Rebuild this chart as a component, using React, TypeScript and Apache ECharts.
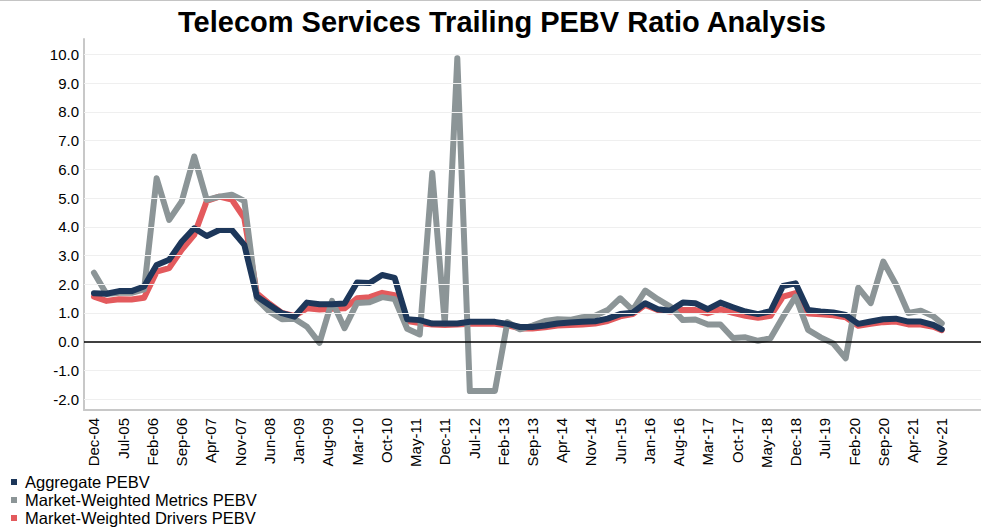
import React, { useEffect, useRef } from "react";
import * as echarts from "echarts";

const dates = [
  "Dec-04",
  "Mar-05", "Jun-05", "Sep-05", "Dec-05",
  "Mar-06", "Jun-06", "Sep-06", "Dec-06",
  "Mar-07", "Jun-07", "Sep-07", "Dec-07",
  "Mar-08", "Jun-08", "Sep-08", "Dec-08",
  "Mar-09", "Jun-09", "Sep-09", "Dec-09",
  "Mar-10", "Jun-10", "Sep-10", "Dec-10",
  "Mar-11", "Jun-11", "Sep-11", "Dec-11",
  "Mar-12", "Jun-12", "Sep-12", "Dec-12",
  "Mar-13", "Jun-13", "Sep-13", "Dec-13",
  "Mar-14", "Jun-14", "Sep-14", "Dec-14",
  "Mar-15", "Jun-15", "Sep-15", "Dec-15",
  "Mar-16", "Jun-16", "Sep-16", "Dec-16",
  "Mar-17", "Jun-17", "Sep-17", "Dec-17",
  "Mar-18", "Jun-18", "Sep-18", "Dec-18",
  "Mar-19", "Jun-19", "Sep-19", "Dec-19",
  "Mar-20", "Jun-20", "Sep-20", "Dec-20",
  "Mar-21", "Jun-21", "Sep-21", "Nov-21",
];

const aggregatePEBV = [
  1.69,
  1.67, 1.76, 1.76, 1.92,
  2.67, 2.85, 3.48, 3.95,
  3.68, 3.89, 3.89, 3.37,
  1.57, 1.28, 0.99, 0.87,
  1.36, 1.30, 1.30, 1.33,
  2.06, 2.04, 2.32, 2.22,
  0.78, 0.75, 0.63, 0.63,
  0.63, 0.69, 0.69, 0.69,
  0.62, 0.51, 0.51, 0.56,
  0.63, 0.67, 0.69, 0.71,
  0.80, 0.96, 1.01, 1.34,
  1.13, 1.08, 1.36, 1.34,
  1.13, 1.36, 1.20, 1.05,
  0.96, 1.06, 1.94, 2.03,
  1.10, 1.05, 1.02, 0.93,
  0.62, 0.70, 0.78, 0.80,
  0.70, 0.70, 0.58, 0.43,
];

const metricsPEBV = [
  2.40,
  1.66, 1.70, 1.70, 1.82,
  5.69, 4.24, 4.88, 6.45,
  4.94, 5.05, 5.12, 4.90,
  1.48, 1.05, 0.78, 0.80,
  0.52, -0.04, 1.42, 0.47,
  1.35, 1.37, 1.55, 1.48,
  0.45, 0.25, 5.87, 0.62,
  9.87, -1.72, -1.72, -1.72,
  0.68, 0.43, 0.56, 0.72,
  0.78, 0.76, 0.85, 0.90,
  1.10, 1.51, 1.10, 1.78,
  1.48, 1.22, 0.75, 0.77,
  0.60, 0.60, 0.13, 0.15,
  0.03, 0.12, 0.87, 1.57,
  0.41, 0.15, -0.06, -0.58,
  1.88, 1.34, 2.79, 2.00,
  1.00, 1.08, 0.88, 0.64,
];

const driversPEBV = [
  1.57,
  1.42, 1.48, 1.47, 1.53,
  2.44, 2.56, 3.20, 3.72,
  4.90, 5.05, 4.95, 4.30,
  1.68, 1.32, 1.00, 0.90,
  1.16, 1.12, 1.15, 1.16,
  1.51, 1.55, 1.70, 1.62,
  0.72, 0.65, 0.60, 0.58,
  0.60, 0.62, 0.62, 0.62,
  0.57, 0.46, 0.46, 0.50,
  0.56, 0.58, 0.60, 0.63,
  0.72, 0.88, 0.96, 1.28,
  1.10, 1.05, 1.10, 1.10,
  0.99, 1.13, 1.00, 0.90,
  0.83, 0.90, 1.57, 1.69,
  0.98, 0.95, 0.92, 0.85,
  0.55, 0.62, 0.68, 0.70,
  0.60, 0.60, 0.52, 0.40,
];

const tickLabels = [
  "Dec-04", "Jul-05", "Feb-06", "Sep-06", "Apr-07", "Nov-07", "Jun-08", "Jan-09",
  "Aug-09", "Mar-10", "Oct-10", "May-11", "Dec-11", "Jul-12", "Feb-13", "Sep-13",
  "Apr-14", "Nov-14", "Jun-15", "Jan-16", "Aug-16", "Mar-17", "Oct-17", "May-18",
  "Dec-18", "Jul-19", "Feb-20", "Sep-20", "Apr-21", "Nov-21",
];

const yTicks = [-2, -1, 0, 1, 2, 3, 4, 5, 6, 7, 8, 9, 10];

const seriesNames = ["Aggregate PEBV", "Market-Weighted Metrics PEBV", "Market-Weighted Drivers PEBV"];
const seriesColors = ["#1d375a", "#8c9597", "#e35a5d"];

const MONTHS = ["Jan", "Feb", "Mar", "Apr", "May", "Jun", "Jul", "Aug", "Sep", "Oct", "Nov", "Dec"];
function monthIndex(d: string): number {
  const [m, y] = d.split("-");
  return (2000 + Number(y)) * 12 + MONTHS.indexOf(m) - (2004 * 12 + 11);
}
const toPairs = (vals: number[]) => vals.map((v, i) => [monthIndex(dates[i]), v]);

const FONT = "'Liberation Sans', Arial, Helvetica, sans-serif";

export default function App() {
  const ref = useRef<HTMLDivElement>(null);
  useEffect(() => {
    if (!ref.current) return;
    const chart = echarts.init(ref.current, undefined, { renderer: "svg" });
    const tickValues = tickLabels.map(monthIndex);
    const lineSeries = (name: string, vals: number[], color: string, z: number) => ({
      name,
      type: "line",
      data: toPairs(vals),
      showSymbol: false,
      symbol: "none",
      z,
      itemStyle: { color },
      lineStyle: { color, width: 6, cap: "round", join: "round" },
      emphasis: { disabled: true },
    });
    chart.setOption({
      animation: false,
      backgroundColor: "#ffffff",
      title: {
        text: "Telecom Services Trailing PEBV Ratio Analysis",
        left: 497,
        textAlign: "center",
        top: 2,
        textStyle: { fontFamily: FONT, fontWeight: "bold", fontSize: 29, color: "#000" },
      },
      legend: {
        orient: "vertical",
        left: 11,
        top: 473,
        padding: 0,
        height: 60,
        itemWidth: 6,
        itemHeight: 6,
        itemGap: 0,
        icon: "rect",
        data: [seriesNames[0], seriesNames[1], seriesNames[2]],
        textStyle: { fontFamily: FONT, fontSize: 16.5, color: "#000", lineHeight: 18, padding: [0, 0, 0, 3] },
        selectedMode: false,
      },
      grid: { left: 84, right: 0, top: 39, bottom: 119, containLabel: false, outerBoundsMode: "none" },
      xAxis: {
        type: "value",
        min: -2.39,
        max: 212.4,
        axisLine: { show: true, onZero: false, lineStyle: { color: "#c8c8c8", width: 2 } },
        axisTick: { show: false },
        splitLine: { show: false },
        axisLabel: {
          customValues: tickValues,
          rotate: 90,
          margin: 8,
          fontFamily: FONT,
          fontSize: 15,
          color: "#000",
          formatter: (v: number) => {
            const i = tickValues.indexOf(Math.round(v));
            return i >= 0 ? tickLabels[i] : "";
          },
        },
      },
      yAxis: {
        type: "value",
        min: -2.38,
        max: 10.54,
        axisLine: { show: true, onZero: false, lineStyle: { color: "#c8c8c8", width: 2 } },
        axisTick: { show: false },
        splitLine: { show: false },
        axisLabel: {
          customValues: yTicks,
          margin: 5,
          fontFamily: FONT,
          fontSize: 15,
          color: "#000",
          formatter: (v: number) => v.toFixed(1),
        },
      },
      graphic: [
        { type: "line", shape: { x1: 0, y1: 0.5, x2: 981, y2: 0.5 }, style: { stroke: "#c4c4c4", lineWidth: 1 } },
      ],
      series: [
        {
          name: "grid",
          type: "line",
          data: [],
          z: 1,
          silent: true,
          markLine: {
            silent: true,
            symbol: ["none", "none"],
            label: { show: false },
            emphasis: { disabled: true },
            data: yTicks.map((v) => ({
              yAxis: v,
              lineStyle: v === 0 ? { color: "#000", width: 1.5, type: "solid" } : { color: "#efefef", width: 1, type: "solid" },
            })),
          },
        },
        lineSeries(seriesNames[2], driversPEBV, seriesColors[2], 2),
        lineSeries(seriesNames[1], metricsPEBV, seriesColors[1], 3),
        lineSeries(seriesNames[0], aggregatePEBV, seriesColors[0], 4),
      ],
    });
    return () => chart.dispose();
  }, []);
  return <div ref={ref} style={{ width: 981, height: 529, position: "absolute", left: 0, top: 0 }} />;
}
